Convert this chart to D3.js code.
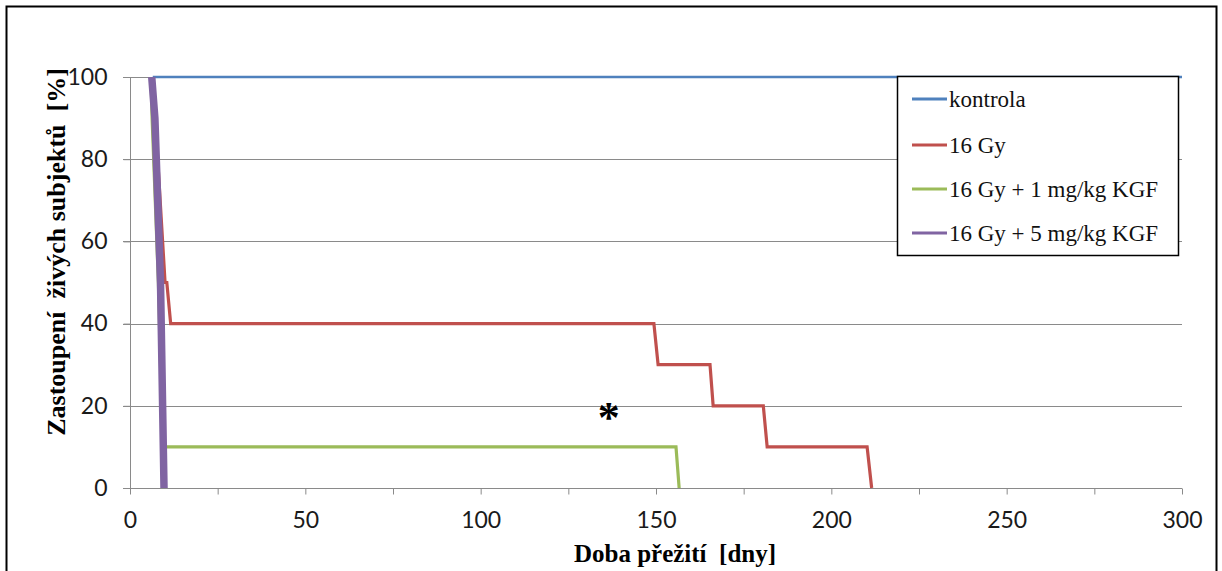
<!DOCTYPE html>
<html>
<head>
<meta charset="utf-8">
<script src="https://cdn.jsdelivr.net/npm/d3@7"></script>
<style>
  html, body { margin: 0; padding: 0; background: #fff; }
  svg { display: block; }
</style>
</head>
<body>
<svg id="chart" width="1222" height="571"></svg>
<script>
// ---- data ----
const seriesNames = ["kontrola", "16 Gy", "16 Gy + 1 mg/kg KGF", "16 Gy + 5 mg/kg KGF"];
const seriesColors = ["#4f81bd", "#c0504d", "#9bbb59", "#8064a2"];
const kontrolaDays = [6.5, 300];
const kontrolaVals = [100, 100];
const gy16Days = [6.5, 10, 10.5, 11.6, 149.4, 150.6, 165.4, 166.3, 180.6, 181.7, 210.2, 211.5];
const gy16Vals = [100, 50, 50, 40, 40, 30, 30, 20, 20, 10, 10, 0];
const kgf1Days = [6, 6.3, 8.1, 9.3, 155.7, 156.6];
const kgf1Vals = [100, 90, 50, 10, 10, 0];
const kgf5Days = [6.2, 7.1, 8.7, 9.7];
const kgf5Vals = [100, 90, 50, 0];
const xTicks = [0, 25, 50, 75, 100, 125, 150, 175, 200, 225, 250, 275, 300];
const xTickLabels = [0, 50, 100, 150, 200, 250, 300];
const yTicks = [0, 20, 40, 60, 80, 100];
const xTitle = "Doba přežití  [dny]";
const yTitle = "Zastoupení  živých subjektů  [%]";
const annotation = { day: 136.5, value: 18, text: "*" };

const series = [
  { days: kontrolaDays, vals: kontrolaVals, width: 2.5 },
  { days: gy16Days, vals: gy16Vals, width: 3.2 },
  { days: kgf1Days, vals: kgf1Vals, width: 3.2 },
  { days: kgf5Days, vals: kgf5Vals, width: 7.5 }
];

const SERIF = "'Liberation Serif', 'Times New Roman', Times, serif";
const SANS = "Lato, 'Open Sans', sans-serif";

// ---- layout ----
const svg = d3.select("#chart");
const x = d3.scaleLinear().domain([0, 300]).range([130, 1182]);
const y = d3.scaleLinear().domain([0, 100]).range([488, 77]);
const axisColor = "#8a8a8a";

// outer border
svg.append("rect").attr("x", 6.5).attr("y", 6.5).attr("width", 1210).attr("height", 590)
  .attr("fill", "none").attr("stroke", "#000").attr("stroke-width", 2);

// gridlines
svg.append("g").selectAll("line").data(yTicks.filter(d => d > 0)).join("line")
  .attr("x1", 123).attr("x2", x(300))
  .attr("y1", d => Math.round(y(d)) + 0.5).attr("y2", d => Math.round(y(d)) + 0.5)
  .attr("stroke", axisColor).attr("stroke-width", 1);

// y axis
const yAxis = svg.append("g").attr("transform", "translate(130.5,0)")
  .call(d3.axisLeft(y).tickValues(yTicks).tickSize(7).tickPadding(16).tickFormat(d3.format("d")));
yAxis.select(".domain").attr("stroke", axisColor).attr("d", `M0,${y(100)}V${y(0)}`);
yAxis.selectAll(".tick line").attr("stroke", axisColor);
yAxis.selectAll("text").attr("fill", "#1a1a1a")
  .style("font-family", SANS).style("font-size", "23px");

// x axis
const xAxis = svg.append("g").attr("transform", `translate(0,${Math.round(y(0)) + 0.5})`)
  .call(d3.axisBottom(x).tickValues(xTicks).tickSize(6).tickPadding(17)
    .tickFormat(d => xTickLabels.includes(d) ? d : ""));
xAxis.select(".domain").attr("stroke", axisColor).attr("d", `M123,0H${x(300)}`);
xAxis.selectAll(".tick line").attr("stroke", axisColor);
xAxis.selectAll("text").attr("fill", "#1a1a1a")
  .style("font-family", SANS).style("font-size", "23px");

// lines
const line = d3.line().x(d => x(d[0])).y(d => y(d[1])).curve(d3.curveLinear);
series.forEach((s, i) => {
  const pts = s.days.map((d, j) => [d, s.vals[j]]);
  svg.append("path").datum(pts).attr("d", line)
    .attr("fill", "none").attr("stroke", seriesColors[i])
    .attr("stroke-width", s.width).attr("stroke-linejoin", "miter");
});

// annotation
svg.append("text").attr("x", x(annotation.day)).attr("y", y(annotation.value) + 18)
  .attr("text-anchor", "middle").attr("fill", "#000")
  .style("font-family", SERIF).style("font-size", "44px").style("font-weight", "bold")
  .text(annotation.text);

// legend
const lg = svg.append("g");
lg.append("rect").attr("x", 897.5).attr("y", 76.5).attr("width", 281).attr("height", 179)
  .attr("fill", "#fff").attr("stroke", "#000").attr("stroke-width", 1.5);
const rowY = [99, 145, 189, 233];
seriesNames.forEach((n, i) => {
  lg.append("line").attr("x1", 912).attr("x2", 947).attr("y1", rowY[i]).attr("y2", rowY[i])
    .attr("stroke", seriesColors[i]).attr("stroke-width", 3);
  lg.append("text").attr("x", 949).attr("y", rowY[i]).attr("dy", "0.33em")
    .attr("fill", "#111").style("font-family", SERIF).style("font-size", "23px").text(n);
});

// axis titles
svg.append("text").attr("x", 675).attr("y", 562).attr("text-anchor", "middle")
  .style("font-family", SERIF).style("font-size", "25px").style("font-weight", "bold")
  .style("white-space", "pre").attr("xml:space", "preserve").text(xTitle);
svg.append("text").attr("transform", "translate(65,252) rotate(-90)")
  .attr("text-anchor", "middle")
  .style("font-family", SERIF).style("font-size", "26px").style("font-weight", "bold")
  .style("white-space", "pre").attr("xml:space", "preserve").text(yTitle);
</script>
</body>
</html>
